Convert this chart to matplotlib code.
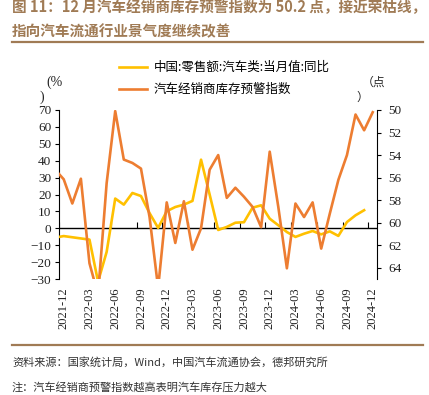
import numpy as np
import pandas as pd
import matplotlib
matplotlib.use('Agg')
import matplotlib.pyplot as plt
from matplotlib.lines import Line2D

plt.rcParams['font.family'] = ['Noto Sans CJK SC', 'DejaVu Sans']

# 数据 (2021-11 ~ 2024-12, 2021-11 只画出一小段)
months = [str(p) for p in pd.period_range('2021-11', '2024-12', freq='M')]
retail_yoy = [-5.5, -4.6, -5.3, -6.0, -6.7, -31.6, -14.0, 17.6, 14.0, 20.9,
              19.1, 9.0, 0.2, 10.1, 12.6, 14.0, 16.2, 40.6, 20.0, -1.0,
              0.8, 3.3, 3.6, 12.2, 13.6, 5.7, 1.8, -2.2, -5.1, -3.2,
              -1.6, -3.6, -1.8, -4.5, 3.7, 7.7, 10.7, np.nan]
dealer_index = [55.3, 56.15, 58.3, 56.1, 63.6, 66.4, 56.5, 50.1, 54.4, 54.7,
                55.2, 59.5, 65.8, 58.2, 61.8, 58.1, 62.4, 60.5, 55.3, 54.0,
                57.8, 56.9, 57.7, 58.6, 60.4, 53.7, 58.6, 64.05, 58.3, 59.5,
                58.2, 62.3, 59.2, 56.2, 54.0, 50.4, 51.8, 50.2]
x = np.arange(len(months)) - 1
tick_pos = x[1::3]
tick_labels = months[1::3]

W, H = 429, 395
fig = plt.figure(figsize=(W / 100, H / 100), dpi=100)
ax = fig.add_axes([59 / W, 1 - 279 / H, (377 - 59) / W, (279 - 110) / H])
ax2 = ax.twinx()

yellow = '#FFC000'
orange = '#ED7D31'
brown = '#A07B55'
serif = 'Liberation Serif'

ax.axhline(0, color='black', lw=1, zorder=1)
ax.plot(tick_pos - 0.5, np.zeros(len(tick_pos)), ls='none', marker=2,
        ms=4, mew=0.8, color='black', zorder=1)
l1, = ax.plot(x, retail_yoy, color=yellow, lw=1.9, zorder=3)
l2, = ax2.plot(x, dealer_index, color=orange, lw=1.9, zorder=3)

ax.set_xlim(-0.55, 36.5)
ax.set_ylim(-30, 70)
ax.set_yticks(range(-30, 71, 10))
ax2.set_ylim(65, 50)
ax2.set_yticks(range(50, 65, 2))

ax.set_xticks(tick_pos)
ax.set_xticklabels(tick_labels, rotation=90)
ax.tick_params(axis='x', length=0, pad=6, labelsize=9,
               labelfontfamily=serif, labelcolor='#222222')
ax.tick_params(axis='y', length=3, width=0.8, pad=2.5, labelsize=9.5,
               labelfontfamily=serif, labelcolor='#222222')
ax2.tick_params(axis='y', length=3, width=0.8, pad=5, labelsize=9.5,
                labelfontfamily=serif, labelcolor='#222222')

for a in (ax, ax2):
    a.spines['top'].set_visible(False)
    a.spines['bottom'].set_visible(False)
    a.patch.set_visible(False)
ax2.spines['left'].set_visible(False)
ax.spines['right'].set_visible(False)
ax.spines['left'].set_linewidth(0.8)
ax2.spines['right'].set_linewidth(0.8)

ax.legend([l1, l2], ['中国:零售额:汽车类:当月值:同比', '汽车经销商库存预警指数'],
          loc='upper left', bbox_to_anchor=(119 / W, 1 - 61 / H),
          bbox_transform=fig.transFigure, frameon=False, fontsize=9,
          handlelength=2.2, handletextpad=0.6, labelspacing=0.75,
          borderpad=0, borderaxespad=0)


def ftext(px, py, s, **kw):
    fig.text(px / W, 1 - py / H, s, va='center', ha='left', **kw)


ftext(46, 82, '(%', family=serif, fontsize=10, color='#222222')
ftext(40, 97, ')', family=serif, fontsize=10, color='#222222')
ftext(362, 82, '（点', fontsize=8.5, color='#222222')
ftext(356, 97, '）', fontsize=8.5, color='#222222')

ftext(12, 7, '图 11：12 月汽车经销商库存预警指数为 50.2 点，接近荣枯线，',
      fontsize=10.5, fontweight='bold', color=brown)
ftext(12, 31, '指向汽车流通行业景气度继续改善',
      fontsize=10.5, fontweight='bold', color=brown)
fig.add_artist(Line2D([12 / W, 423 / W], [1 - 42 / H, 1 - 42 / H], color=brown, lw=1.6))
fig.add_artist(Line2D([12 / W, 423 / W], [1 - 345 / H, 1 - 345 / H], color=brown, lw=1.6))

ftext(12, 362, '资料来源：国家统计局，Wind，中国汽车流通协会，德邦研究所',
      fontsize=8, color='#333333')
ftext(12, 387, '注：汽车经销商预警指数越高表明汽车库存压力越大',
      fontsize=8, color='#333333')

fig.savefig('out.png', dpi=100)
